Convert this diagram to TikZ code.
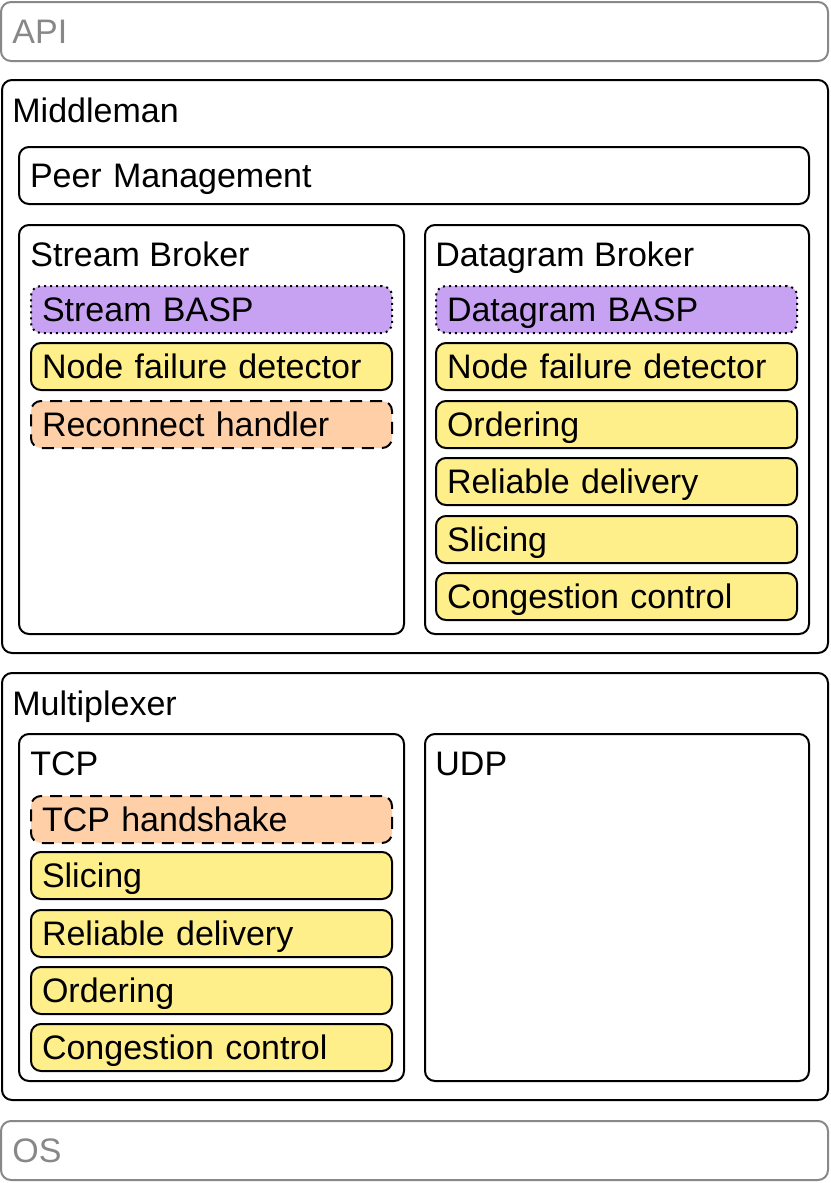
\documentclass[tikz,border=0pt]{standalone}
\usepackage{fontspec}
\setmainfont{Liberation Sans}
\usetikzlibrary{positioning}

\definecolor{baspfill}{RGB}{200,162,242}
\definecolor{featfill}{RGB}{255,239,138}
\definecolor{optfill}{RGB}{255,208,168}
\definecolor{extgray}{RGB}{136,136,136}

\tikzset{
  layer/.style={draw, line width=1pt, rounded corners=5pt, anchor=north west, inner sep=0pt, outer sep=0pt},
  extlayer/.style={layer, draw=extgray},
  feature/.style={draw, line width=1pt, rounded corners=5pt, fill=featfill, anchor=north west,
    minimum width=180.5pt, minimum height=23.5pt, text width=169.5pt, align=left, outer sep=0pt,
    inner xsep=5.5pt, inner ysep=0pt, text height=12.1pt, text depth=0pt},
  basp/.style={feature, fill=baspfill, dash pattern=on 1pt off 2pt},
  optional/.style={feature, fill=optfill, dash pattern=on 6pt off 4pt},
  title/.style={anchor=base west, inner sep=0pt},
}

\begin{document}
\begin{tikzpicture}[x=0.5pt, y=-0.5pt, font=\fontsize{17pt}{20pt}\selectfont]

  \useasboundingbox (0,0) rectangle (830,1183);

  % API on top
  \node[extlayer, minimum width=413.5pt, minimum height=29.5pt] (api) at (1,2) {};
  \node[title, text=extgray] (apilabel) at (12,43) {API};

  % Middleman layer
  \node[layer, minimum width=413pt, minimum height=286.5pt] (middleman) at (2,80) {};
  \node[title] (middlemanlabel) at (12,122) {Middleman};

  \node[feature, fill=none, minimum width=395pt, minimum height=28.5pt, text width=384pt]
    (peermgmt) at (19,147) {Peer Management};

  % Stream broker
  \node[layer, minimum width=192.5pt, minimum height=204.5pt] (streambroker) at (19,225) {};
  \node[title] (streamlabel) at (30,266) {Stream Broker};
  \node[basp]     (streambasp)   at (31,286) {Stream BASP};
  \node[feature]  (streamfail)   at (31,343) {Node failure detector};
  \node[optional] (reconnect)    at (31,401) {Reconnect handler};

  % Datagram broker
  \node[layer, minimum width=192pt, minimum height=204.5pt] (dgrambroker) at (425,225) {};
  \node[title] (dgramlabel) at (435,266) {Datagram Broker};
  \node[basp]    (dgrambasp)   at (436,286) {Datagram BASP};
  \node[feature] (dgramfail)   at (436,343) {Node failure detector};
  \node[feature] (dgramorder)  at (436,401) {Ordering};
  \node[feature] (dgramrel)    at (436,458) {Reliable delivery};
  \node[feature] (dgramslice)  at (436,516) {Slicing};
  \node[feature] (dgramcong)   at (436,573) {Congestion control};

  % Multiplexer layer
  \node[layer, minimum width=413pt, minimum height=213.5pt] (multiplexer) at (2,673) {};
  \node[title] (multiplexerlabel) at (12,715) {Multiplexer};

  % TCP
  \node[layer, minimum width=192.5pt, minimum height=173.5pt] (tcp) at (19,734) {};
  \node[title] (tcplabel) at (30,775) {TCP};
  \node[optional] (tcphand)  at (31,796)  {TCP handshake};
  \node[feature]  (tcpslice) at (31,852)  {Slicing};
  \node[feature]  (tcprel)   at (31,910)  {Reliable delivery};
  \node[feature]  (tcporder) at (31,967)  {Ordering};
  \node[feature]  (tcpcong)  at (31,1024) {Congestion control};

  % UDP
  \node[layer, minimum width=192pt, minimum height=173.5pt] (udp) at (425,734) {};
  \node[title] (udplabel) at (435,775) {UDP};

  % OS at the bottom
  \node[extlayer, minimum width=413.5pt, minimum height=29.5pt] (os) at (1,1121) {};
  \node[title, text=extgray] (oslabel) at (12,1162) {OS};

\end{tikzpicture}
\end{document}
